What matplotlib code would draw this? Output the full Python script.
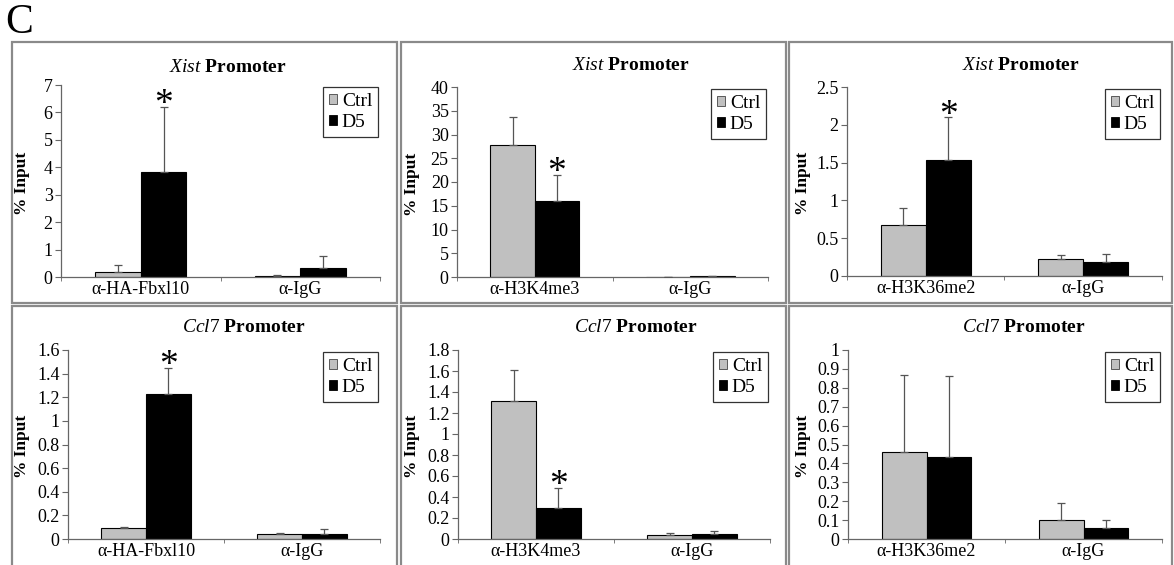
import numpy as np
import matplotlib
matplotlib.use('Agg')
from matplotlib import pyplot as plt
from matplotlib.patches import Rectangle, Patch

plt.rcParams['font.family'] = 'Liberation Serif'
plt.rcParams['mathtext.fontset'] = 'custom'
plt.rcParams['mathtext.rm'] = 'Liberation Serif'
plt.rcParams['mathtext.it'] = 'Liberation Serif:italic'
plt.rcParams['mathtext.bf'] = 'Liberation Serif:bold'

series = ['Ctrl', 'D5']
promoters = ['Xist', 'Xist', 'Xist', 'Ccl7', 'Ccl7', 'Ccl7']
antibodies = ['α-HA-Fbxl10', 'α-H3K4me3', 'α-H3K36me2',
              'α-HA-Fbxl10', 'α-H3K4me3', 'α-H3K36me2']
control_ab = 'α-IgG'

# values per panel: [antibody, IgG]
ctrl_vals = [[0.18, 0.03], [27.7, 0.1], [0.67, 0.23],
             [0.095, 0.04], [1.31, 0.035], [0.46, 0.10]]
ctrl_err = [[0.27, 0.05], [5.9, 0.0], [0.23, 0.05],
            [0.005, 0.015], [0.30, 0.025], [0.41, 0.09]]
d5_vals = [[3.82, 0.33], [16.1, 0.2], [1.53, 0.18],
           [1.23, 0.045], [0.30, 0.045], [0.435, 0.06]]
d5_err = [[2.38, 0.42], [5.4, 0.0], [0.57, 0.11],
          [0.22, 0.04], [0.19, 0.035], [0.425, 0.04]]
d5_star = [True, True, True, True, True, False]

y_max = [7, 40, 2.5, 1.6, 1.8, 1.0]
y_step = [1, 5, 0.5, 0.2, 0.2, 0.1]

W, H = 1174, 565
fig = plt.figure(figsize=(W / 100, H / 100), dpi=100)

def fx(px):
    return px / W

def fy(py):
    return 1 - py / H

# panel frames (pixels: left, top, right, bottom)
frames = [(12, 42, 397, 303), (401, 42, 786, 303), (789, 42, 1172, 303),
          (12, 306, 397, 575), (401, 306, 786, 575), (789, 306, 1172, 575)]
for l, t, r, b in frames:
    fig.patches.append(Rectangle((fx(l), fy(b)), fx(r - l), fy(t) - fy(b),
                                 transform=fig.transFigure, fill=False,
                                 edgecolor='#8a8a8a', linewidth=1.6))

# plot areas (pixels: left, top, right, bottom)
boxes = [(61, 85, 380, 277), (457, 87, 768, 277), (847, 87, 1162, 276),
         (68, 350, 380, 539), (458, 350, 770, 539), (848, 350, 1162, 539)]
title_pos = [(228, 67), (631, 65), (1021, 65), (244, 327), (636, 327), (1024, 327)]
ylabel_x = [22, 412, 803, 22, 412, 803]

bw = 1 / 3.5
for i in range(6):
    l, t, r, b = boxes[i]
    ax = fig.add_axes([fx(l), fy(b), fx(r - l), fy(t) - fy(b)])
    x = np.arange(2)
    ax.bar(x - bw / 2, ctrl_vals[i], bw, color='#c0c0c0', edgecolor='black',
           linewidth=0.8, zorder=2)
    ax.bar(x + bw / 2, d5_vals[i], bw, color='black', edgecolor='black',
           linewidth=0.8, zorder=2)
    ax.errorbar(x - bw / 2, ctrl_vals[i], yerr=[[0, 0], ctrl_err[i]], fmt='none',
                ecolor='#555555', elinewidth=0.9, capsize=3, capthick=0.9, zorder=3)
    ax.errorbar(x + bw / 2, d5_vals[i], yerr=[[0, 0], d5_err[i]], fmt='none',
                ecolor='#555555', elinewidth=0.9, capsize=3, capthick=0.9, zorder=3)
    if d5_star[i]:
        top = d5_vals[i][0] + d5_err[i][0]
        ax.text(bw / 2, top + y_max[i] * 0.01, '*', ha='center', va='center',
                fontsize=27, zorder=4)
    ax.set_xlim(-0.5, 1.5)
    ax.set_ylim(0, y_max[i])
    ax.set_yticks(np.arange(0, y_max[i] + y_step[i] / 2, y_step[i]))
    ax.yaxis.set_major_formatter(plt.FuncFormatter(lambda v, p: '{:g}'.format(round(v, 2))))
    ax.set_xticks(x)
    ax.set_xticklabels([antibodies[i], control_ab], fontsize=13)
    ax.set_xticks([-0.5, 0.5, 1.5], minor=True)
    ax.tick_params(axis='x', which='major', length=0, pad=3)
    ax.tick_params(axis='x', which='minor', length=3, direction='out', color='#666666')
    ax.tick_params(axis='y', length=4, direction='out', labelsize=13, color='#666666', pad=2)
    for s in ['top', 'right']:
        ax.spines[s].set_visible(False)
    for s in ['left', 'bottom']:
        ax.spines[s].set_color('#666666')
        ax.spines[s].set_linewidth(0.9)
    ax.patch.set_alpha(0)
    handles = [Patch(facecolor='#c0c0c0', edgecolor='#444444', linewidth=0.6),
               Patch(facecolor='black', edgecolor='black', linewidth=0.6)]
    leg = ax.legend(handles, series, loc='upper right', bbox_to_anchor=(1.0, 1.0),
                    fontsize=14, handlelength=0.4, handleheight=0.4,
                    handletextpad=0.25, labelspacing=0.2, borderpad=0.3,
                    fancybox=False, framealpha=1, borderaxespad=0.1)
    leg.get_frame().set_edgecolor('#333333')
    leg.get_frame().set_linewidth(0.9)

    tx, ty = title_pos[i]
    fig.text(fx(tx), fy(ty), r'$\it{' + promoters[i] + r'}$ $\bf{Promoter}$',
             ha='center', va='center', fontsize=14)
    fig.text(fx(ylabel_x[i]), fy((t + b) / 2 + 2), '% Input', rotation=90,
             ha='center', va='center', fontsize=12.5, fontweight='bold')

fig.text(fx(5), fy(23), 'C', ha='left', va='center', fontsize=30)

fig.savefig('out.png', dpi=100)
